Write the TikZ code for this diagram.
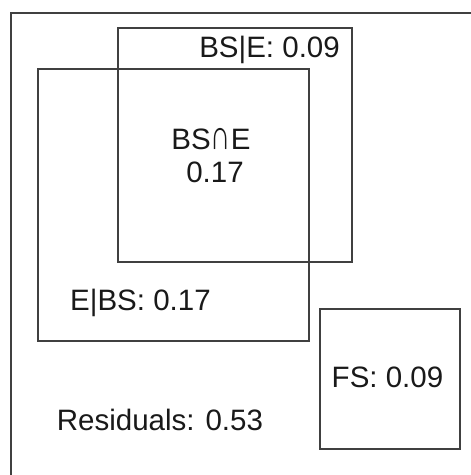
\documentclass[tikz,border=0pt]{standalone}
\usepackage{graphicx}
\usepackage{fontspec}
\setmainfont{Liberation Sans}
\newcommand{\capcap}{\scalebox{0.95}[1.42]{∩}}
\begin{document}
\begin{tikzpicture}[x=1pt,y=1pt,
  box/.style={draw=black!75,line width=1.1pt},
  lbl/.style={inner sep=0pt,text=black!90,font=\fontsize{29.5}{33}\selectfont}]
\useasboundingbox (0,0) rectangle (471,475);
\clip (0,0) rectangle (471,475);
% outer (residual) frame, cut by the picture edge
\draw[box] (11,-20) rectangle (490,462);
% E box
\draw[box] (38,134) rectangle (309,406);
% BS box
\draw[box] (118,213) rectangle (352,447);
% FS box
\draw[box] (320,26) rectangle (460,166);
\node[lbl,anchor=base east] (bse) at (340,417) {BS|E: 0.09};
\node[lbl,anchor=base] (bsi) at (211,325) {BS\capcap E};
\node[lbl,anchor=base] (bsv) at (215,292) {0.17};
\node[lbl,anchor=base west] (ebs) at (70,164.3) {E|BS: 0.17};
\node[lbl,anchor=base] (fs) at (387.5,88) {FS: 0.09};
\node[lbl,anchor=base west] (res) at (56.7,44.3) {Residuals: 0.53};
\end{tikzpicture}
\end{document}
